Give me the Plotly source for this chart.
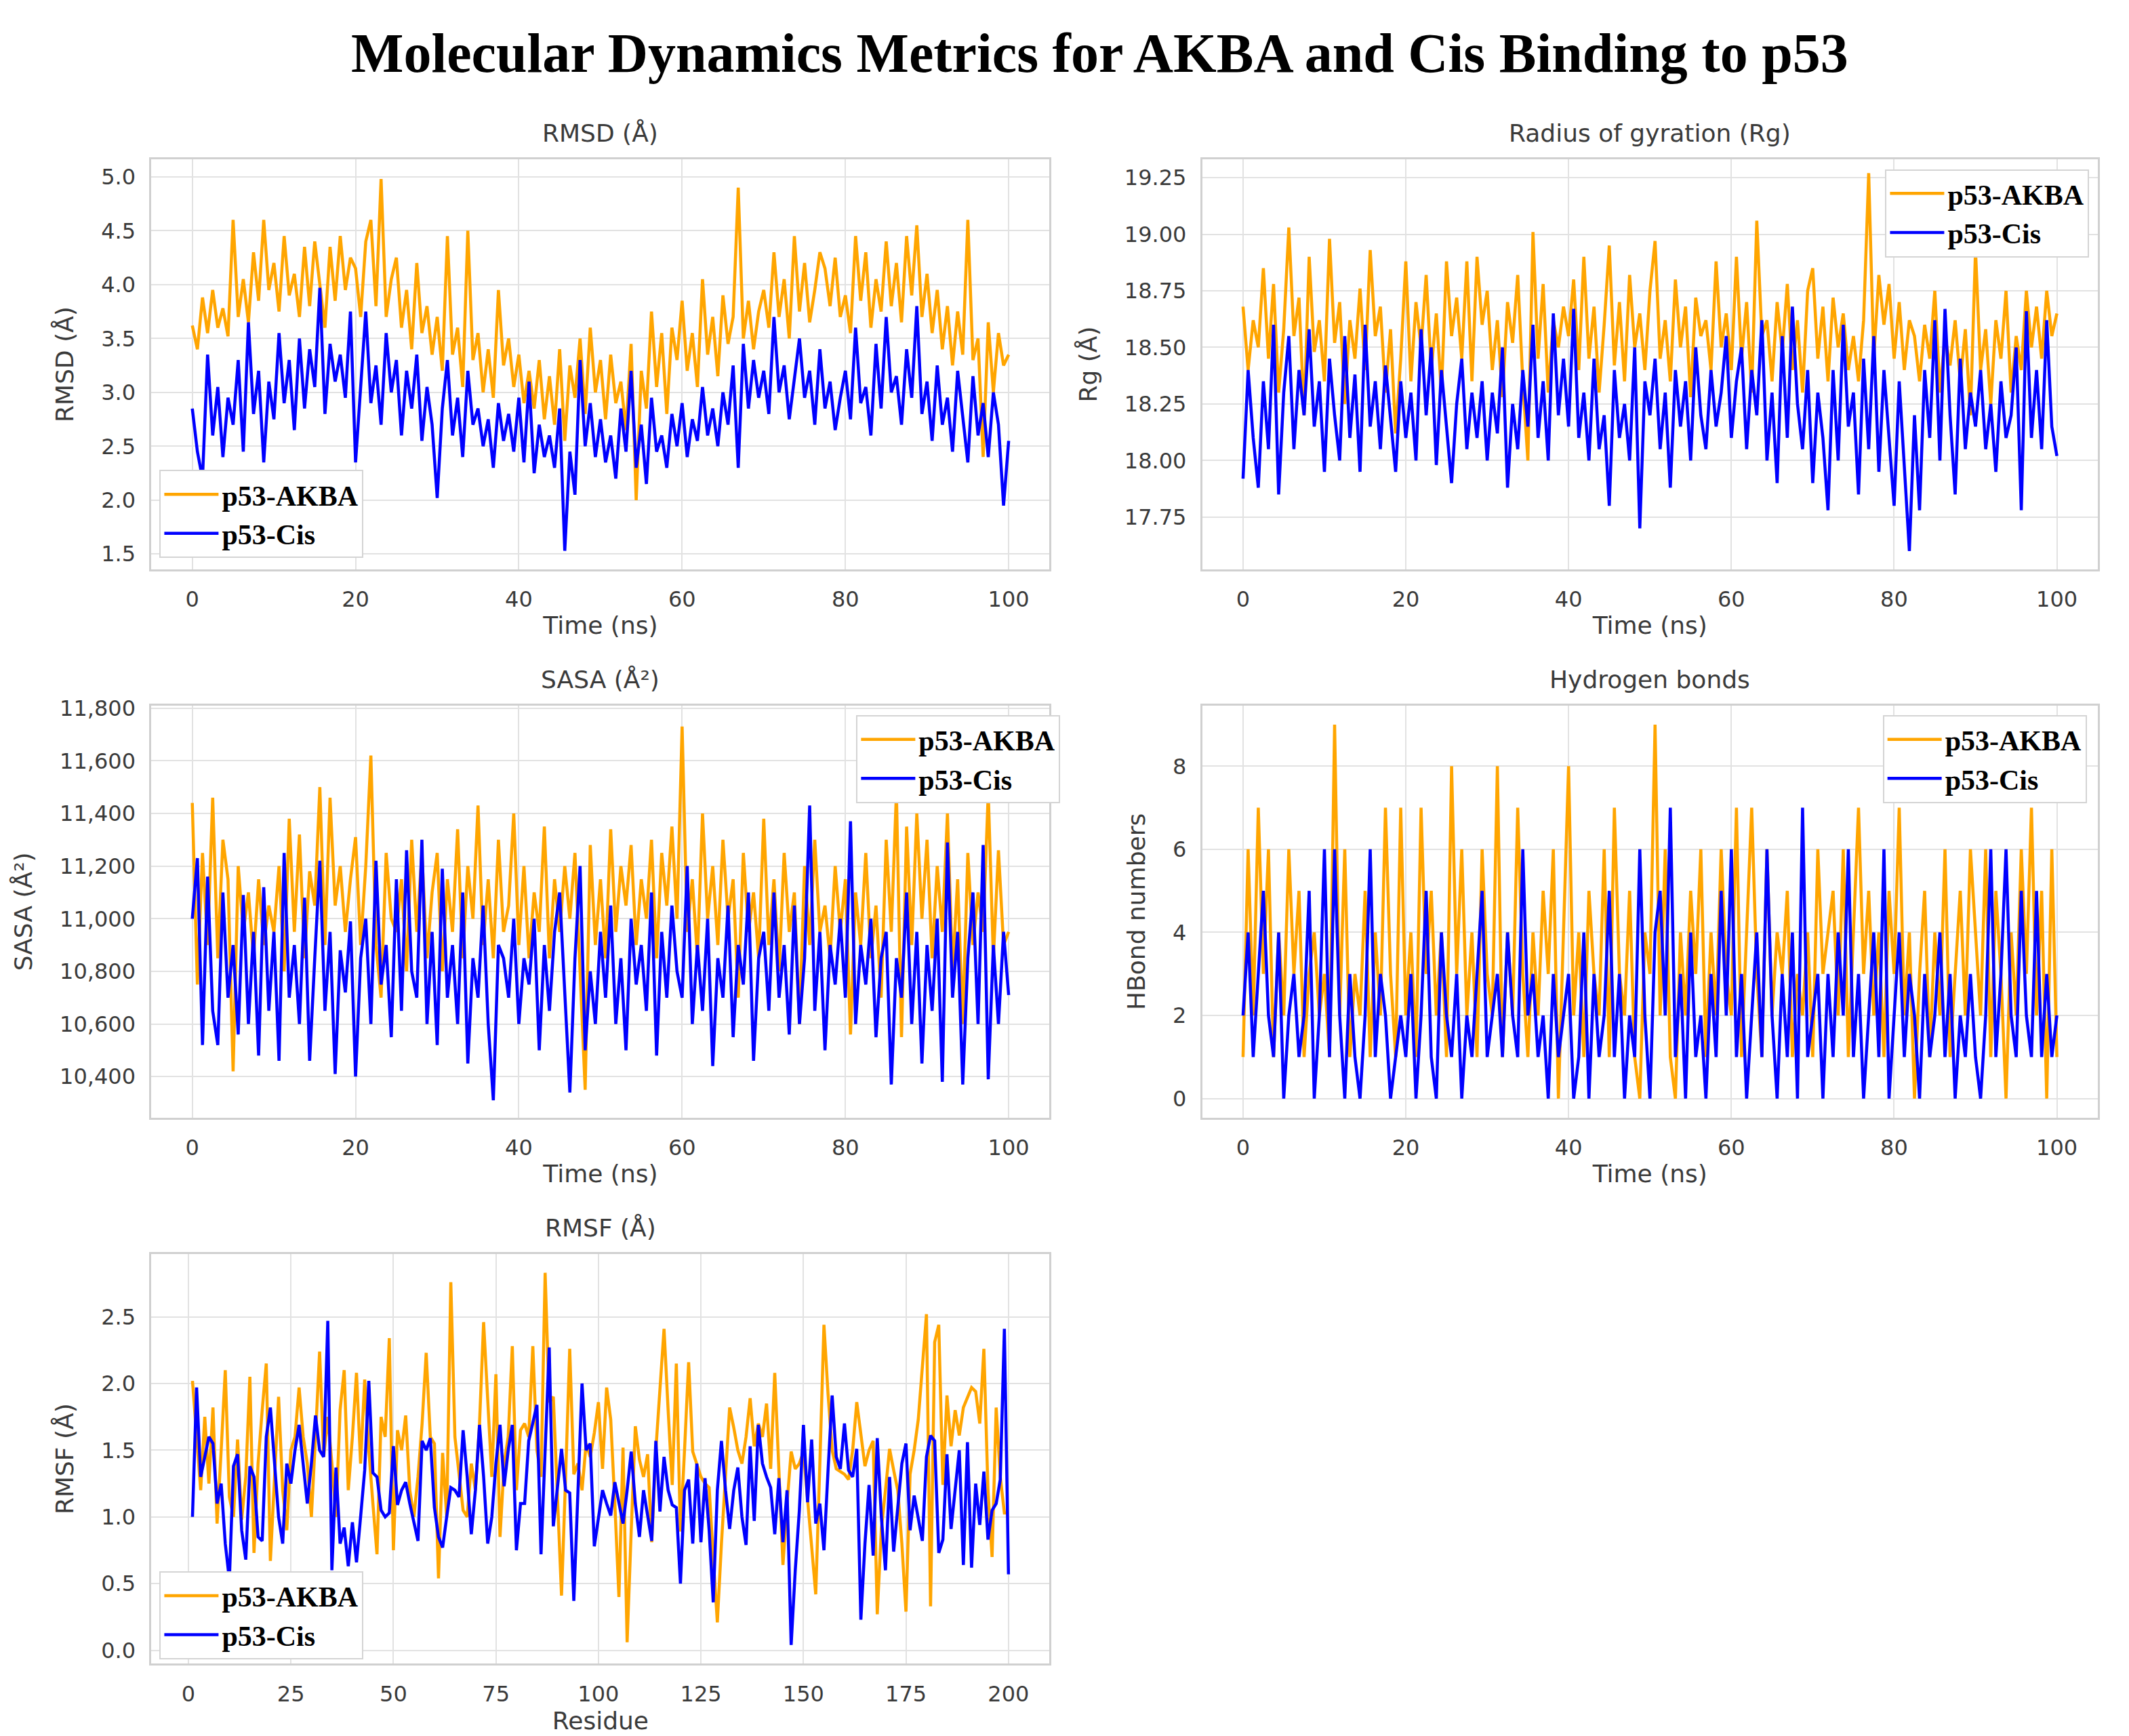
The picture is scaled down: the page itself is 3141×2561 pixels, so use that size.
import plotly.graph_objects as go

# ---------------------------------------------------------------------------
# Data read off the figure (time series sampled every 0.625 ns, 0-100 ns)
# ---------------------------------------------------------------------------
RMSD_AKBA = [
    3.62, 3.40, 3.88, 3.55, 3.95, 3.60, 3.78, 3.52, 4.60, 3.70, 4.05, 3.65, 4.30, 3.85, 4.60, 3.95,
    4.20, 3.75, 4.45, 3.90, 4.10, 3.70, 4.35, 3.80, 4.40, 4.00, 3.60, 4.35, 3.85, 4.45, 3.95, 4.25,
    4.15, 3.70, 4.40, 4.60, 3.80, 4.98, 3.70, 4.05, 4.25, 3.60, 3.95, 3.40, 4.20, 3.55, 3.80, 3.35,
    3.70, 3.20, 4.45, 3.35, 3.60, 3.05, 4.50, 3.30, 3.55, 3.00, 3.40, 2.95, 3.95, 3.25, 3.50, 3.05,
    3.35, 2.90, 3.20, 2.85, 3.30, 2.75, 3.15, 2.70, 3.40, 2.55, 3.25, 2.95, 3.50, 2.80, 3.60, 3.00,
    3.30, 2.75, 3.35, 2.90, 3.10, 2.65, 3.45, 2.00, 3.20, 2.85, 3.75, 3.05, 3.55, 2.80, 3.60, 3.30,
    3.85, 3.20, 3.55, 3.05, 4.05, 3.35, 3.70, 3.15, 3.90, 3.45, 3.70, 4.90, 3.50, 3.85, 3.40, 3.75,
    3.95, 3.60, 4.30, 3.70, 4.05, 3.50, 4.45, 3.75, 4.20, 3.65, 3.95, 4.30, 4.15, 3.80, 4.25, 3.70,
    3.90, 3.55, 4.45, 3.85, 4.30, 3.60, 4.05, 3.75, 4.40, 3.80, 4.20, 3.65, 4.45, 3.90, 4.55, 3.70,
    4.10, 3.55, 3.95, 3.40, 3.80, 3.25, 3.75, 3.35, 4.60, 3.30, 3.50, 2.40, 3.65, 3.00, 3.55, 3.25,
    3.35,
]
RMSD_CIS = [
    2.85, 2.45, 2.20, 3.35, 2.60, 3.05, 2.40, 2.95, 2.70, 3.30, 2.45, 3.65, 2.80, 3.20, 2.35, 3.10,
    2.75, 3.55, 2.90, 3.30, 2.65, 3.50, 2.85, 3.40, 3.05, 3.97, 2.80, 3.45, 3.10, 3.35, 2.95, 3.75,
    2.35, 3.10, 3.75, 2.90, 3.25, 2.70, 3.55, 3.00, 3.30, 2.60, 3.20, 2.85, 3.35, 2.55, 3.05, 2.70,
    2.02, 2.85, 3.30, 2.60, 2.95, 2.40, 3.20, 2.70, 2.85, 2.50, 2.75, 2.30, 2.90, 2.55, 2.80, 2.45,
    2.95, 2.35, 3.10, 2.25, 2.70, 2.40, 2.60, 2.30, 2.85, 1.53, 2.45, 2.05, 3.30, 2.50, 2.90, 2.40,
    2.75, 2.35, 2.60, 2.20, 2.85, 2.45, 3.20, 2.30, 2.70, 2.15, 2.95, 2.45, 2.60, 2.30, 2.80, 2.50,
    2.90, 2.40, 2.75, 2.55, 3.05, 2.60, 2.85, 2.50, 3.00, 2.70, 3.25, 2.30, 3.45, 2.85, 3.30, 2.95,
    3.20, 2.80, 3.70, 3.00, 3.25, 2.75, 3.10, 3.50, 2.95, 3.20, 2.70, 3.40, 2.85, 3.10, 2.65, 2.95,
    3.20, 2.75, 3.60, 2.90, 3.05, 2.60, 3.45, 2.85, 3.70, 3.00, 3.15, 2.70, 3.40, 2.95, 3.80, 2.80,
    3.10, 2.55, 3.25, 2.70, 2.95, 2.45, 3.20, 2.75, 2.35, 3.15, 2.60, 2.90, 2.40, 3.00, 2.70, 1.95,
    2.55,
]

RG_AKBA = [
    18.68, 18.40, 18.62, 18.50, 18.85, 18.45, 18.78, 18.30, 18.58, 19.03, 18.55, 18.72, 18.20, 18.90, 18.48, 18.62,
    18.35, 18.98, 18.52, 18.70, 18.25, 18.62, 18.45, 18.76, 18.40, 18.93, 18.55, 18.68, 18.30, 18.58, 18.12, 18.45,
    18.88, 18.35, 18.70, 18.50, 18.82, 18.40, 18.65, 18.30, 18.88, 18.55, 18.72, 18.45, 18.88, 18.35, 18.90, 18.60,
    18.75, 18.40, 18.62, 18.28, 18.70, 18.52, 18.82, 18.35, 18.00, 19.01, 18.45, 18.78, 18.30, 18.62, 18.50, 18.68,
    18.55, 18.80, 18.40, 18.90, 18.45, 18.68, 18.30, 18.60, 18.95, 18.42, 18.70, 18.35, 18.82, 18.50, 18.65, 18.40,
    18.75, 18.97, 18.45, 18.62, 18.35, 18.80, 18.50, 18.68, 18.28, 18.72, 18.55, 18.62, 18.40, 18.88, 18.50, 18.65,
    18.40, 18.90, 18.45, 18.70, 18.30, 19.06, 18.55, 18.62, 18.35, 18.70, 18.48, 18.78, 18.40, 18.62, 18.30, 18.75,
    18.85, 18.45, 18.68, 18.35, 18.72, 18.50, 18.65, 18.40, 18.55, 18.35, 18.62, 19.27, 18.45, 18.82, 18.60, 18.78,
    18.45, 18.70, 18.40, 18.62, 18.55, 18.35, 18.60, 18.45, 18.75, 18.30, 18.55, 18.42, 18.62, 18.35, 18.58, 18.20,
    18.93, 18.40, 18.58, 18.25, 18.62, 18.45, 18.75, 18.30, 18.55, 18.40, 18.75, 18.50, 18.68, 18.45, 18.75, 18.55,
    18.65,
]
RG_CIS = [
    17.92, 18.40, 18.10, 17.88, 18.35, 18.05, 18.60, 17.85, 18.30, 18.55, 18.05, 18.40, 18.20, 18.58, 18.15, 18.35,
    17.95, 18.45, 18.20, 18.00, 18.55, 18.10, 18.38, 17.95, 18.60, 18.15, 18.35, 18.05, 18.42, 18.20, 17.95, 18.35,
    18.10, 18.30, 18.00, 18.58, 18.20, 18.50, 17.98, 18.40, 18.15, 17.90, 18.25, 18.45, 18.05, 18.30, 18.10, 18.35,
    18.00, 18.30, 18.12, 18.50, 17.88, 18.25, 18.05, 18.40, 18.15, 18.60, 18.10, 18.35, 18.00, 18.65, 18.20, 18.45,
    18.15, 18.67, 18.10, 18.30, 18.00, 18.45, 18.05, 18.20, 17.80, 18.40, 18.10, 18.25, 18.00, 18.50, 17.70, 18.35,
    18.20, 18.45, 18.05, 18.30, 17.88, 18.40, 18.15, 18.35, 18.00, 18.50, 18.20, 18.05, 18.40, 18.15, 18.30, 18.55,
    18.10, 18.35, 18.50, 18.05, 18.40, 18.20, 18.62, 18.00, 18.30, 17.90, 18.55, 18.10, 18.68, 18.25, 18.05, 18.40,
    17.90, 18.30, 18.10, 17.78, 18.40, 18.00, 18.60, 18.15, 18.30, 17.85, 18.45, 18.05, 18.55, 17.95, 18.40, 18.10,
    17.80, 18.35, 18.00, 17.60, 18.20, 17.78, 18.40, 18.10, 18.62, 18.00, 18.67, 18.20, 17.85, 18.45, 18.05, 18.30,
    18.15, 18.40, 18.05, 18.25, 17.95, 18.35, 18.10, 18.20, 18.50, 17.78, 18.66, 18.10, 18.40, 18.05, 18.62, 18.15,
    18.02,
]

SASA_AKBA = [
    11440, 10750, 11250, 10900, 11460, 10850, 11300, 11150, 10420, 11200, 10950, 11100, 10850, 11150, 10900, 11050,
    10950, 11200, 10800, 11380, 10950, 11320, 10850, 11180, 11050, 11500, 10900, 11460, 11050, 11200, 10950, 11150,
    11310, 10900, 11200, 11620, 10900, 10700, 11250, 11000, 10950, 11150, 10800, 11300, 10950, 11250, 10850, 11100,
    11250, 10800, 11150, 10950, 11340, 10850, 11200, 11000, 11430, 10900, 11150, 10850, 11300, 10950, 11050, 11400,
    10900, 11200, 10850, 11100, 10950, 11350, 10850, 11150, 10950, 11200, 11000, 11250, 10800, 10350, 11280, 10900,
    11150, 10850, 11340, 10950, 11200, 11050, 11280, 10900, 11150, 11000, 11300, 10850, 11250, 11050, 11350, 11000,
    11730, 10950, 11150, 10850, 11400, 11000, 11200, 10900, 11300, 11000, 11150, 10700, 11250, 10950, 11100, 10850,
    11380, 10900, 11150, 10800, 11250, 10950, 11100, 10600, 11200, 10900, 11300, 10950, 11050, 10850, 11200, 10950,
    11150, 10560, 11100, 10900, 11250, 10850, 11050, 10700, 11300, 10950, 11480, 10550, 11350, 10900, 11400, 11000,
    11300, 10850, 11200, 10950, 11400, 10800, 11150, 10600, 11250, 10900, 11100, 10950, 11480, 10850, 11260, 10900,
    10950,
]
SASA_CIS = [
    11000, 11230, 10520, 11160, 10650, 10520, 11100, 10700, 10900, 10560, 11090, 10600, 10950, 10480, 11120, 10650,
    10950, 10460, 11250, 10700, 10900, 10600, 11080, 10460, 10850, 11220, 10650, 10950, 10410, 10880, 10720, 10990,
    10400, 10850, 11000, 10600, 11220, 10750, 10900, 10550, 11150, 10650, 11260, 10800, 10700, 11300, 10600, 10950,
    10520, 11190, 10700, 10900, 10600, 11100, 10450, 10850, 10700, 11050, 10600, 10310, 10900, 10850, 10700, 11000,
    10600, 10850, 10750, 11000, 10500, 10900, 10650, 10950, 11100, 10700, 10340, 10850, 11200, 10500, 10800, 10600,
    10950, 10700, 11050, 10600, 10850, 10500, 11000, 10750, 10900, 10650, 11100, 10480, 10950, 10700, 11050, 10800,
    10700, 11200, 10600, 10900, 10650, 11000, 10440, 10850, 10700, 11050, 10550, 10900, 10750, 11100, 10460, 10850,
    10950, 10650, 11100, 10700, 10900, 10560, 11050, 10600, 10850, 11430, 10650, 10950, 10500, 10900, 10750, 11000,
    10700, 11370, 10600, 10900, 10750, 11000, 10550, 10850, 10950, 10370, 10850, 10700, 11100, 10600, 10950, 10450,
    10900, 10650, 11000, 10380, 11290, 10700, 10950, 10370, 10850, 11100, 10600, 11280, 10390, 10900, 10600, 10950,
    10710,
]

HBOND_AKBA = [
    1, 6, 2, 7, 3, 6, 1, 4, 2, 6, 3, 5, 1, 3, 4, 2,
    3, 1, 9, 2, 6, 1, 3, 2, 5, 1, 4, 2, 7, 3, 1, 7,
    2, 4, 1, 7, 3, 5, 2, 4, 1, 8, 3, 6, 2, 4, 1, 6,
    3, 2, 8, 1, 4, 2, 7, 3, 1, 4, 2, 5, 3, 6, 0, 4,
    8, 2, 4, 1, 5, 3, 2, 6, 1, 7, 3, 2, 5, 1, 0, 4,
    3, 9, 2, 6, 1, 0, 4, 2, 5, 3, 6, 1, 4, 2, 6, 3,
    2, 7, 1, 4, 7, 3, 1, 6, 2, 4, 3, 5, 1, 3, 2, 4,
    1, 6, 3, 4, 5, 2, 6, 1, 4, 7, 3, 5, 2, 4, 1, 5,
    3, 7, 2, 4, 0, 3, 5, 1, 4, 2, 6, 1, 3, 5, 2, 6,
    4, 2, 6, 1, 5, 3, 0, 4, 2, 6, 3, 7, 2, 5, 0, 6,
    1,
]
HBOND_CIS = [
    2, 4, 1, 3, 5, 2, 1, 4, 0, 2, 3, 1, 2, 5, 0, 2,
    6, 1, 6, 2, 0, 3, 1, 0, 2, 6, 1, 3, 2, 0, 1, 2,
    1, 3, 0, 2, 5, 1, 0, 4, 2, 1, 3, 0, 2, 1, 3, 5,
    1, 2, 3, 1, 4, 2, 1, 6, 2, 3, 1, 2, 0, 3, 1, 2,
    3, 0, 1, 4, 0, 3, 1, 2, 5, 1, 3, 0, 2, 1, 6, 2,
    0, 4, 5, 2, 7, 1, 3, 0, 4, 1, 2, 0, 3, 1, 5, 2,
    6, 1, 3, 0, 2, 4, 1, 6, 2, 0, 3, 1, 4, 0, 7, 1,
    2, 3, 0, 3, 1, 4, 2, 6, 1, 3, 0, 2, 4, 1, 6, 0,
    2, 4, 1, 3, 2, 0, 3, 1, 2, 4, 1, 3, 0, 2, 1, 3,
    1, 0, 2, 6, 1, 3, 6, 2, 1, 5, 2, 1, 5, 1, 3, 1,
    2,
]

# RMSF per residue (residues 1-200)
RMSF_AKBA = [
    2.02, 1.60, 1.20, 1.75, 1.25, 1.82, 0.95, 1.50, 2.10, 1.15,
    1.00, 1.58, 0.98, 1.30, 2.05, 0.73, 1.40, 1.80, 2.15, 0.67,
    1.30, 1.90, 1.20, 0.90, 1.50, 1.60, 1.97, 1.60, 1.40, 1.00,
    1.60, 2.24, 1.45, 1.75, 1.40, 1.00, 1.80, 2.10, 1.20, 1.60,
    2.08, 1.40, 2.03, 1.50, 1.10, 0.72, 1.75, 1.60, 2.34, 0.75,
    1.65, 1.50, 1.76, 1.20, 1.00, 1.30, 1.70, 2.23, 1.60, 1.55,
    0.54, 1.48, 1.00, 2.76, 1.60, 1.30, 1.05, 1.00, 1.40, 1.20,
    1.70, 2.46, 1.90, 1.30, 2.07, 0.85, 1.40, 1.60, 2.28, 1.20,
    1.65, 1.70, 1.60, 2.28, 1.50, 1.30, 2.83, 1.86, 1.90, 1.20,
    0.41, 1.30, 2.26, 1.32, 1.40, 1.20, 1.55, 1.45, 1.63, 1.86,
    1.36, 1.97, 1.73, 1.10, 0.40, 1.52, 0.06, 0.90, 1.68, 1.43,
    1.30, 1.47, 0.81, 1.50, 2.00, 2.41, 1.80, 1.24, 2.15, 0.89,
    1.50, 2.16, 1.49, 1.40, 1.30, 1.25, 1.22, 0.70, 0.21, 0.80,
    1.30, 1.82, 1.67, 1.50, 1.40, 1.60, 1.89, 1.53, 1.70, 1.60,
    1.85, 1.36, 2.08, 1.30, 0.64, 1.10, 1.49, 1.36, 1.40, 1.49,
    1.11, 0.80, 0.42, 1.40, 2.44, 1.92, 1.50, 1.36, 1.34, 1.32,
    1.28, 1.50, 1.86, 1.60, 1.38, 1.50, 1.57, 0.27, 0.91, 1.20,
    1.51, 1.35, 1.20, 0.80, 0.29, 1.32, 1.50, 1.73, 2.10, 2.52,
    0.33, 2.31, 2.44, 1.24, 1.91, 1.53, 1.80, 1.61, 1.82, 1.90,
    1.97, 1.94, 1.70, 2.26, 1.20, 0.70, 1.82, 1.30, 1.03, 1.03,
]
RMSF_CIS = [
    1.00, 1.97, 1.30, 1.45, 1.60, 1.55, 1.10, 1.25, 0.80, 0.53,
    1.38, 1.47, 0.90, 0.68, 1.38, 1.30, 0.85, 0.82, 1.60, 1.82,
    1.38, 1.00, 0.80, 1.40, 1.25, 1.50, 1.69, 1.40, 1.10, 1.40,
    1.76, 1.50, 1.45, 2.47, 0.60, 1.37, 0.80, 0.92, 0.63, 0.96,
    0.66, 1.00, 1.35, 2.02, 1.33, 1.30, 1.05, 1.00, 1.03, 1.53,
    1.09, 1.20, 1.26, 1.10, 0.95, 0.82, 1.57, 1.50, 1.59, 1.07,
    0.85, 0.77, 1.00, 1.22, 1.20, 1.15, 1.65, 1.30, 0.87, 1.20,
    1.69, 1.30, 0.80, 1.00, 1.40, 1.69, 1.23, 1.50, 1.69, 0.75,
    1.10, 1.10, 1.57, 1.70, 1.84, 0.72, 1.50, 2.27, 0.93, 1.20,
    1.51, 1.20, 1.18, 0.37, 1.20, 2.00, 1.50, 1.55, 0.78, 1.00,
    1.20, 1.10, 1.01, 1.26, 1.10, 0.95, 1.20, 1.49, 1.10, 0.85,
    1.20, 1.00, 0.82, 1.57, 1.04, 1.45, 1.20, 1.09, 1.07, 0.50,
    1.20, 1.28, 0.80, 1.40, 0.81, 1.29, 0.90, 0.36, 1.20, 1.57,
    1.20, 0.91, 1.20, 1.37, 1.00, 0.79, 1.53, 0.97, 1.69, 1.40,
    1.30, 1.22, 0.87, 1.29, 0.81, 1.20, 0.04, 0.60, 1.05, 1.69,
    1.11, 1.58, 0.95, 1.10, 0.75, 1.35, 1.91, 1.45, 1.36, 1.70,
    1.35, 1.30, 1.51, 0.23, 0.80, 1.24, 0.71, 1.59, 1.00, 0.60,
    1.30, 0.74, 1.10, 1.40, 1.55, 0.90, 1.16, 1.00, 0.82, 1.45,
    1.61, 1.57, 0.73, 0.83, 1.47, 0.91, 1.20, 1.50, 0.64, 1.56,
    0.62, 1.25, 0.94, 1.34, 0.83, 1.05, 1.10, 1.28, 2.41, 0.57,
]

SERIES_NAMES = ["p53-AKBA", "p53-Cis"]
ORANGE = "#FFA500"
BLUE = "#0000FF"

SANS = "DejaVu Sans, Verdana, sans-serif"
SERIF = "Liberation Serif, Times New Roman, serif"
GREY_TEXT = "#3a3a3a"


def time_axis(values, t_end=100.0):
    """Sampling times for a trajectory series (evenly spaced over the run)"""
    step = t_end / (len(values) - 1)
    return [round(i * step, 4) for i in range(len(values))]


def residue_axis(values):
    """Residue numbers 1..N"""
    return list(range(1, len(values) + 1))


# panel definitions: position in paper coords + axis setup
PANELS = [
    dict(title="RMSD (Å)", ylabel="RMSD (Å)", xlabel="Time (ns)",
         data=(RMSD_AKBA, RMSD_CIS), x=time_axis,
         xdom=[0.0686, 0.4904], ydom=[0.6753, 0.9112],
         xrange=[-5, 105], yrange=[1.36, 5.16], xdtick=20, ydtick=0.5, yfmt=".1f", y0=1.5,
         legend=dict(x=0.0724, y=0.6816, xanchor="left", yanchor="bottom")),
    dict(title="Radius of gyration (Rg)", ylabel="Rg (Å)", xlabel="Time (ns)",
         data=(RG_AKBA, RG_CIS), x=time_axis,
         xdom=[0.5622, 0.9827], ydom=[0.6753, 0.9112],
         xrange=[-5, 105], yrange=[17.52, 19.33], xdtick=20, ydtick=0.25, yfmt=".2f", y0=17.75,
         legend=dict(x=0.9788, y=0.9057, xanchor="right", yanchor="top")),
    dict(title="SASA (Å²)", ylabel="SASA (Å²)", xlabel="Time (ns)",
         data=(SASA_AKBA, SASA_CIS), x=time_axis,
         xdom=[0.0686, 0.4904], ydom=[0.3593, 0.5967],
         xrange=[-5, 105], yrange=[10244, 11810], xdtick=20, ydtick=200, yfmt=",d", y0=10400,
         legend=dict(x=0.4955, y=0.5912, xanchor="right", yanchor="top")),
    dict(title="Hydrogen bonds", ylabel="HBond numbers", xlabel="Time (ns)",
         data=(HBOND_AKBA, HBOND_CIS), x=time_axis,
         xdom=[0.5622, 0.9827], ydom=[0.3593, 0.5967],
         xrange=[-5, 105], yrange=[-0.46, 9.46], xdtick=20, ydtick=2, yfmt="d", y0=0,
         legend=dict(x=0.9776, y=0.5912, xanchor="right", yanchor="top")),
    dict(title="RMSF (Å)", ylabel="RMSF (Å)", xlabel="Residue",
         data=(RMSF_AKBA, RMSF_CIS), x=residue_axis,
         xdom=[0.0686, 0.4904], ydom=[0.0448, 0.2807],
         xrange=[-9, 210], yrange=[-0.10, 2.97], xdtick=25, ydtick=0.5, yfmt=".1f", y0=0,
         legend=dict(x=0.0724, y=0.0472, xanchor="left", yanchor="bottom")),
]


def axis_style():
    return dict(
        showgrid=True, gridcolor="#e2e2e2", gridwidth=2,
        showline=True, mirror=True, linecolor="#d0d0d0", linewidth=3,
        zeroline=False, ticks="", automargin=False,
        tickfont=dict(family=SANS, size=32, color=GREY_TEXT),
        ticklabelstandoff=14,
    )


def build_figure():
    fig = go.Figure()
    annotations = []
    layout = {}

    for i, p in enumerate(PANELS, start=1):
        xname = "x" if i == 1 else f"x{i}"
        yname = "y" if i == 1 else f"y{i}"
        lname = "legend" if i == 1 else f"legend{i}"

        for values, name, color in zip(p["data"], SERIES_NAMES, [ORANGE, BLUE]):
            fig.add_trace(go.Scatter(
                x=p["x"](values), y=values, name=name, mode="lines",
                line=dict(color=color, width=4.5),
                xaxis=xname, yaxis=yname, legend=lname,
            ))

        xa = axis_style()
        xa.update(domain=p["xdom"], anchor=yname, range=p["xrange"],
                  tick0=0, dtick=p["xdtick"],
                  title=dict(text=p["xlabel"], standoff=8,
                             font=dict(family=SANS, size=36, color=GREY_TEXT)))
        ya = axis_style()
        ya.update(domain=p["ydom"], anchor=xname, range=p["yrange"],
                  tick0=p["y0"], dtick=p["ydtick"], tickformat=p["yfmt"],
                  title=dict(text=p["ylabel"], standoff=30,
                             font=dict(family=SANS, size=36, color=GREY_TEXT)))
        layout["xaxis" if i == 1 else f"xaxis{i}"] = xa
        layout["yaxis" if i == 1 else f"yaxis{i}"] = ya

        leg = dict(p["legend"])
        leg.update(bgcolor="white", bordercolor="#d4d4d4", borderwidth=2,
                   font=dict(family=SERIF, size=42, color="black", weight="bold"),
                   tracegroupgap=0, itemwidth=80)
        layout[lname] = leg

        # subplot title
        annotations.append(dict(
            text=p["title"], xref="paper", yref="paper",
            x=sum(p["xdom"]) / 2, y=p["ydom"][1], xanchor="center", yanchor="bottom",
            yshift=16, showarrow=False,
            font=dict(family=SANS, size=36, color=GREY_TEXT),
        ))

    annotations.append(dict(
        text="<b>Molecular Dynamics Metrics for AKBA and Cis Binding to p53</b>",
        xref="paper", yref="paper", x=0.514, y=0.9725,
        xanchor="center", yanchor="middle", showarrow=False,
        font=dict(family=SERIF, size=82, color="black"),
    ))

    fig.update_layout(
        width=3141, height=2561,
        margin=dict(l=0, r=0, t=0, b=0),
        paper_bgcolor="white", plot_bgcolor="white",
        showlegend=True, annotations=annotations,
        **layout,
    )
    return fig


def main():
    fig = build_figure()
    fig.write_html("out.html")


if __name__ == "__main__":
    main()
